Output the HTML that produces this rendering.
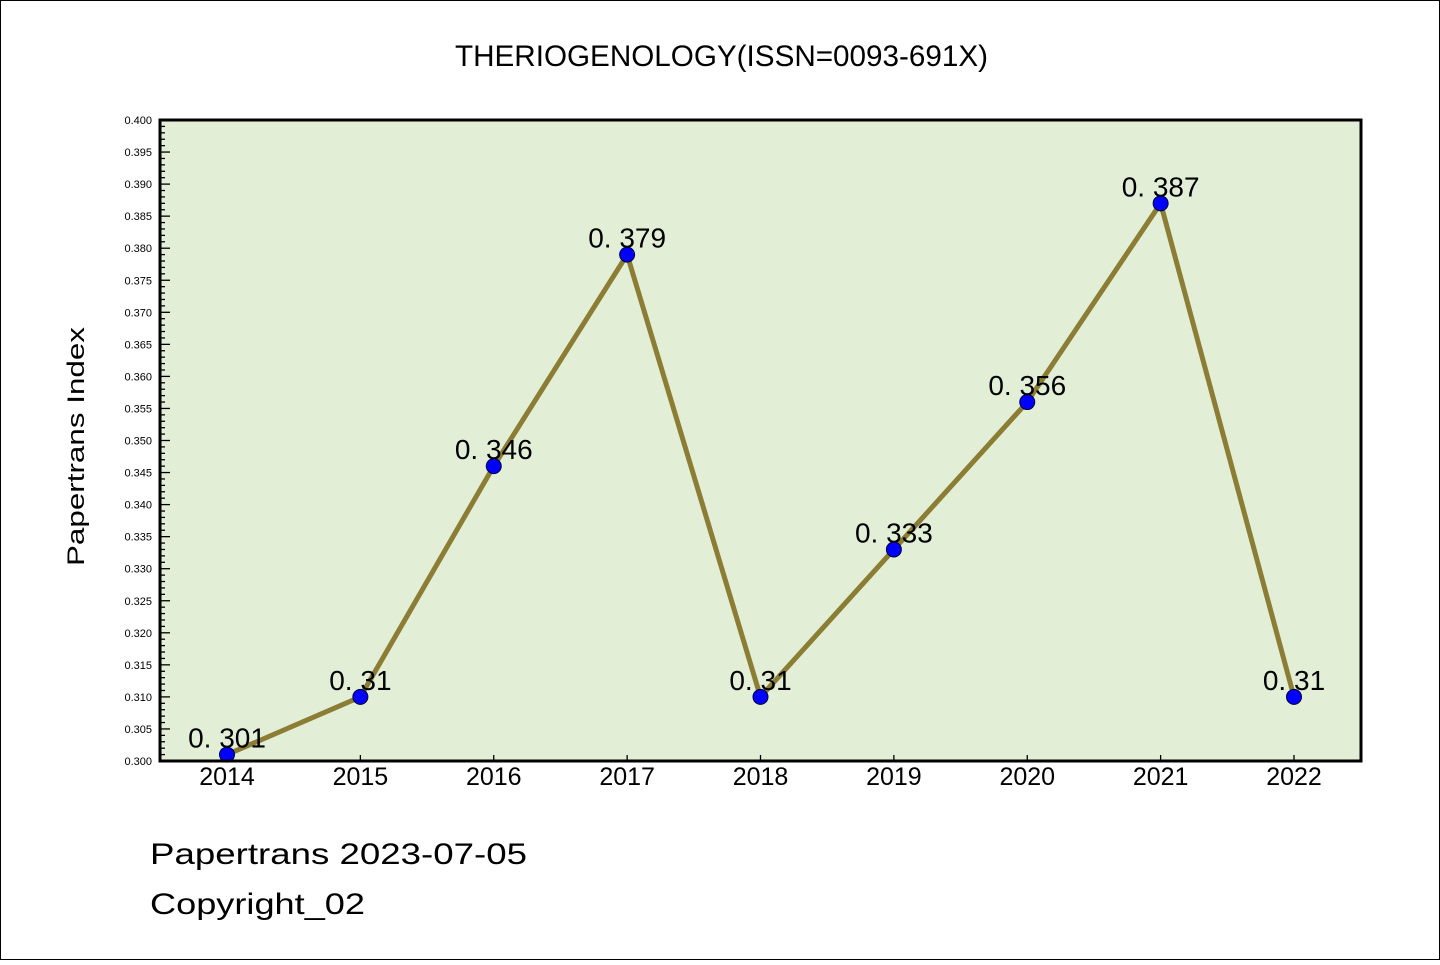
<!DOCTYPE html>
<html><head><meta charset="utf-8"><style>
body{margin:0;background:#fff;}
svg text{font-family:"Liberation Sans","WenQuanYi Zen Hei",sans-serif;}
</style></head><body>
<svg id="chart" width="1440" height="960" xmlns="http://www.w3.org/2000/svg">
<rect x="0.5" y="0.5" width="1439" height="959" fill="#fff" stroke="#000" stroke-width="1"/>
<text x="455" y="66" textLength="533" lengthAdjust="spacingAndGlyphs" font-size="30">THERIOGENOLOGY(ISSN=0093-691X)</text>
<rect x="160" y="120" width="1201" height="641" fill="#e2efd6"/>
<g id="axes"></g>
<g id="series"></g>
<rect x="160" y="120" width="1201" height="641" fill="none" stroke="#000" stroke-width="3"/>
<text transform="translate(84,566) rotate(-90)" textLength="239" lengthAdjust="spacingAndGlyphs" font-size="24">Papertrans Index</text>
<text x="150" y="864" font-size="30" textLength="377" lengthAdjust="spacingAndGlyphs">Papertrans 2023-07-05</text>
<text x="150" y="914" font-size="30" textLength="215" lengthAdjust="spacingAndGlyphs">Copyright_02</text>
</svg>
<script>
const categories=["2014","2015","2016","2017","2018","2019","2020","2021","2022"];
const values=[0.301,0.31,0.346,0.379,0.31,0.333,0.356,0.387,0.31];
const labels=["0.301","0.31","0.346","0.379","0.31","0.333","0.356","0.387","0.31"];
const yMin=0.300,yMax=0.400;
const NS="http://www.w3.org/2000/svg";
const L=160,R=1361,T=120,B=761;
const x0=227,dx=(1294-227)/8;
function xs(i){return x0+i*dx;}
function ys(v){return B-(v-yMin)/(yMax-yMin)*(B-T);}
function mk(tag,a,p){const e=document.createElementNS(NS,tag);for(const k in a)e.setAttribute(k,a[k]);p.appendChild(e);return e;}
const ax=document.getElementById('axes');
for(let k=0;k<=100;k++){
  const v=yMin+k*0.001,y=ys(v),maj=k%5===0;
  const t=mk('line',{x1:L,x2:L+(maj?10:5),y1:y,y2:y,stroke:'#000','stroke-width':1.3},ax);
  
  
  if(maj){
    const tx=mk('text',{x:152,y:y+4,'text-anchor':'end','font-size':11},ax);
    tx.textContent=v.toFixed(3);
    
    
  }
}
categories.forEach((c,i)=>{
  const x=xs(i);
  const t=mk('line',{x1:x,x2:x,y1:B,y2:B-6,stroke:'#000','stroke-width':1.3},ax);
  
  
  const tx=mk('text',{x:x,y:785,'text-anchor':'middle','font-size':25},ax);
  tx.textContent=c;
  
  
});
const sg=document.getElementById('series');
const pl=mk('polyline',{points:values.map((v,i)=>xs(i)+','+ys(v)).join(' '),fill:'none',stroke:'#8c7d35','stroke-width':5,'stroke-linejoin':'round'},sg);


values.forEach((v,i)=>{
  const c=mk('circle',{cx:xs(i),cy:ys(v),r:7.5,fill:'#0000ff',stroke:'#000033','stroke-width':1},sg);
  
  
});
values.forEach((v,i)=>{
  const t=mk('text',{x:xs(i),y:ys(v)-7,'text-anchor':'middle','font-size':28},sg);
  t.textContent=labels[i].replace('.','. ');
  
  
});
</script>
</body></html>
